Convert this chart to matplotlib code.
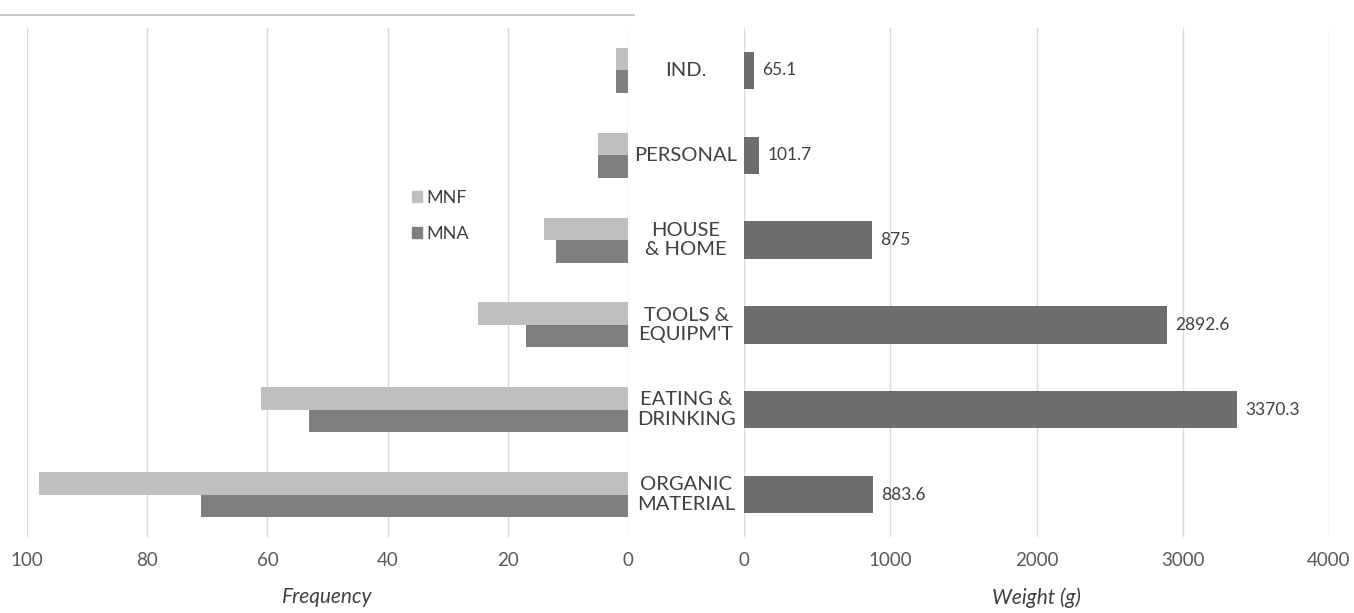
import matplotlib
matplotlib.use("Agg")
import matplotlib.pyplot as plt
from matplotlib.lines import Line2D
from matplotlib.patches import Patch
import matplotlib.transforms as mtransforms

plt.rcParams['font.family'] = ['Lato', 'DejaVu Sans']

# Categories, listed bottom to top
categories = ["ORGANIC\nMATERIAL", "EATING &\nDRINKING", "TOOLS &\nEQUIPM'T",
              "HOUSE\n& HOME", "PERSONAL", "IND."]
mnf_freq = [98, 61, 25, 14, 5, 2]
mna_freq = [71, 53, 17, 12, 5, 2]
weight_g = [883.6, 3370.3, 2892.6, 875, 101.7, 65.1]
weight_labels = ["883.6", "3370.3", "2892.6", "875", "101.7", "65.1"]
freq_ticks = [100, 80, 60, 40, 20, 0]
weight_ticks = [0, 1000, 2000, 3000, 4000]

W, H = 1354, 613
fig = plt.figure(figsize=(W / 100, H / 100), dpi=100)

top_px, bot_px = 28, 537
ax_l = fig.add_axes([27 / W, (H - bot_px) / H, (628 - 27) / W, (bot_px - top_px) / H])
ax_r = fig.add_axes([744 / W, (H - bot_px) / H, (1329 - 744) / W, (bot_px - top_px) / H])

c_mnf = "#bfbfbf"
c_mna = "#7f7f7f"
c_wt = "#6e6e6e"
grid_c = "#d9d9d9"
tick_c = "#595959"
text_c = "#404040"

y = list(range(len(categories)))
bh = 0.265
ax_l.barh([v + bh / 2 for v in y], mnf_freq, height=bh, color=c_mnf, zorder=3)
ax_l.barh([v - bh / 2 for v in y], mna_freq, height=bh, color=c_mna, zorder=3)
ax_l.set_xlim(100, 0)

bars = ax_r.barh(y, weight_g, height=0.44, color=c_wt, zorder=3)
ax_r.set_xlim(0, 4000)
for b, lab in zip(bars, weight_labels):
    ax_r.annotate(lab, (b.get_width(), b.get_y() + b.get_height() / 2),
                  xytext=(6, 0), textcoords="offset points", va="center",
                  ha="left", fontsize=12.5, color=text_c)

for ax, ticks in ((ax_l, freq_ticks), (ax_r, weight_ticks)):
    ax.set_ylim(-0.5, len(categories) - 0.5)
    ax.set_xticks(ticks)
    ax.set_yticks([])
    for s in ax.spines.values():
        s.set_visible(False)
    ax.grid(axis="x", color=grid_c, lw=1, zorder=0)
    ax.tick_params(axis="x", length=0, pad=11, labelsize=13.5, labelcolor=tick_c)
    ax.set_axisbelow(True)

ax_l.set_xlabel("Frequency", style="italic", fontsize=15, color=text_c, labelpad=13)
ax_r.set_xlabel("Weight (g)", style="italic", fontsize=15, color=text_c, labelpad=13)

# Category names centred in the gap between the two panels
trans = mtransforms.blended_transform_factory(fig.transFigure, ax_l.transData)
for v, name in zip(y, categories):
    fig.text(686 / W, v, name, transform=trans, ha="center", va="center",
             fontsize=14.5, color=text_c, linespacing=1.2)

handles = [Patch(color=c_mnf, label="MNF"), Patch(color=c_mna, label="MNA")]
fig.legend(handles=handles, loc="center left", bbox_to_anchor=(396 / W, 1 - 216 / H),
           frameon=False, fontsize=13, labelcolor=text_c, handlelength=0.55,
           handleheight=0.55, handletextpad=0.25, labelspacing=1.1)

fig.add_artist(Line2D([0, 634 / W], [1 - 15 / H, 1 - 15 / H], color="#c4c4c4", lw=1.3))

fig.savefig("out.png", dpi=100, facecolor="white")
